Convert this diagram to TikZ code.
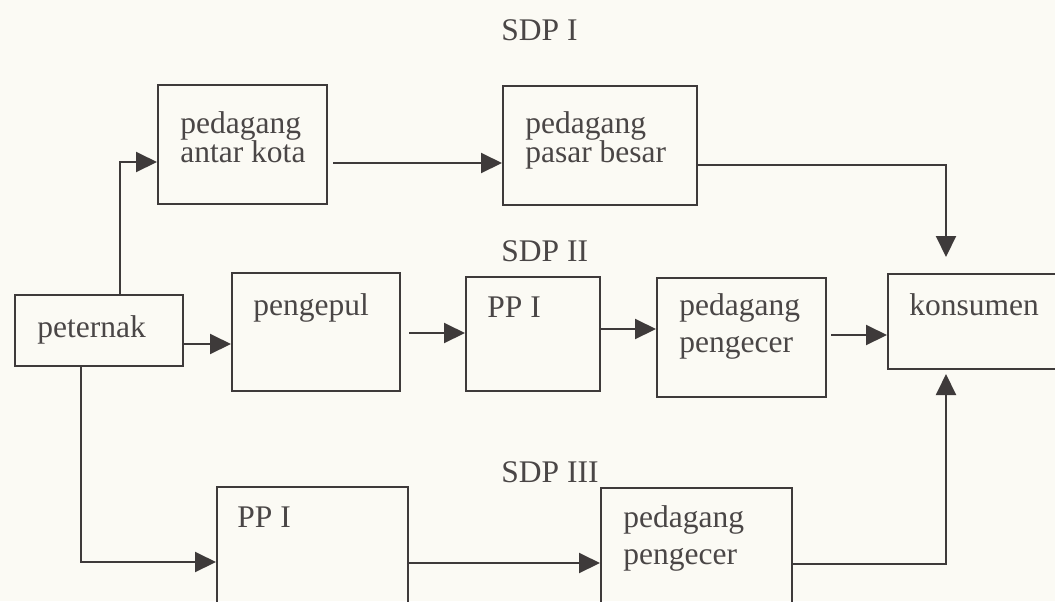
\documentclass[tikz,border=0pt]{standalone}
\usepackage{fontspec}
\setmainfont{Liberation Serif}
\usetikzlibrary{arrows.meta,fit,calc}
\definecolor{bg}{HTML}{FBFAF4}
\definecolor{lnc}{HTML}{3E3A3A}
\definecolor{txc}{HTML}{4A4646}
\begin{document}
\begin{tikzpicture}[x=0.5pt,y=-0.5pt,
  box/.style={draw=lnc, line width=1pt, inner sep=0pt},
  lbl/.style={text=txc, inner sep=0pt, anchor=base west, font=\fontsize{15.75}{18}\selectfont},
  arr/.style={draw=lnc, line width=1pt, -{Triangle[length=10.5pt,width=10pt]}}]
\clip (0,0) rectangle (1055,601);
\fill[bg] (0,0) rectangle (1055,601);

% boxes
\node[box, fit={(15,295)(183,366)}] (pet) {};
\node[box, fit={(158,85)(327,204)}] (pak) {};
\node[box, fit={(503,86)(697,205)}] (ppb) {};
\node[box, fit={(232,273)(400,391)}] (pgp) {};
\node[box, fit={(466,277)(600,391)}] (pp2) {};
\node[box, fit={(657,278)(826,397)}] (pc2) {};
\node[box, fit={(888,274)(1075,369)}] (kon) {};
\node[box, fit={(217,487)(408,625)}] (pp3) {};
\node[box, fit={(601,488)(792,625)}] (pc3) {};

% texts
\node[lbl] (tpet) at (37,337) {peternak};
\node[lbl] (tpak1) at (180,133) {pedagang};
\node[lbl] (tpak2) at (180,162) {antar kota};
\node[lbl] (tppb1) at (525,133) {pedagang};
\node[lbl] (tppb2) at (525,162) {pasar besar};
\node[lbl] (tpgp) at (253,315) {pengepul};
\node[lbl] (tpp2) at (487,317) {PP I};
\node[lbl] (tpc2a) at (679,315) {pedagang};
\node[lbl] (tpc2b) at (679,352) {pengecer};
\node[lbl] (tkon) at (909,315) {konsumen};
\node[lbl] (tpp3) at (237,527) {PP I};
\node[lbl] (tpc3a) at (623,527) {pedagang};
\node[lbl] (tpc3b) at (623,564) {pengecer};
\node[lbl] (sdp1) at (501,40) {SDP I};
\node[lbl] (sdp2) at (501,261) {SDP II};
\node[lbl] (sdp3) at (501,482) {SDP III};

% connectors
\coordinate (c1) at (120,162);
\draw[arr] (pet.north -| c1) -- (c1) -- (pak.west |- c1);
\coordinate (y2) at (0,163);
\draw[arr, shorten <=2.5pt] (pak.east |- y2) -- (ppb.west |- y2);
\coordinate (k1) at (946,165);
\draw[arr, shorten >=8pt] (ppb.east |- k1) -- (k1) -- (kon.north -| k1);
\coordinate (y4) at (0,344);
\draw[arr] (pet.east |- y4) -- (pgp.west |- y4);
\coordinate (y5) at (0,333);
\draw[arr, shorten <=4pt] (pgp.east |- y5) -- (pp2.west |- y5);
\coordinate (y6) at (0,329);
\draw[arr] (pp2.east |- y6) -- (pc2.west |- y6);
\coordinate (y7) at (0,335);
\draw[arr, shorten <=2pt] (pc2.east |- y7) -- (kon.west |- y7);
\coordinate (b1) at (81,562);
\draw[arr] (pet.south -| b1) -- (b1) -- (pp3.west |- b1);
\coordinate (y9) at (0,563);
\draw[arr] (pp3.east |- y9) -- (pc3.west |- y9);
\coordinate (k2) at (946,564);
\draw[arr, shorten >=2pt] (pc3.east |- k2) -- (k2) -- (kon.south -| k2);
\end{tikzpicture}
\end{document}
